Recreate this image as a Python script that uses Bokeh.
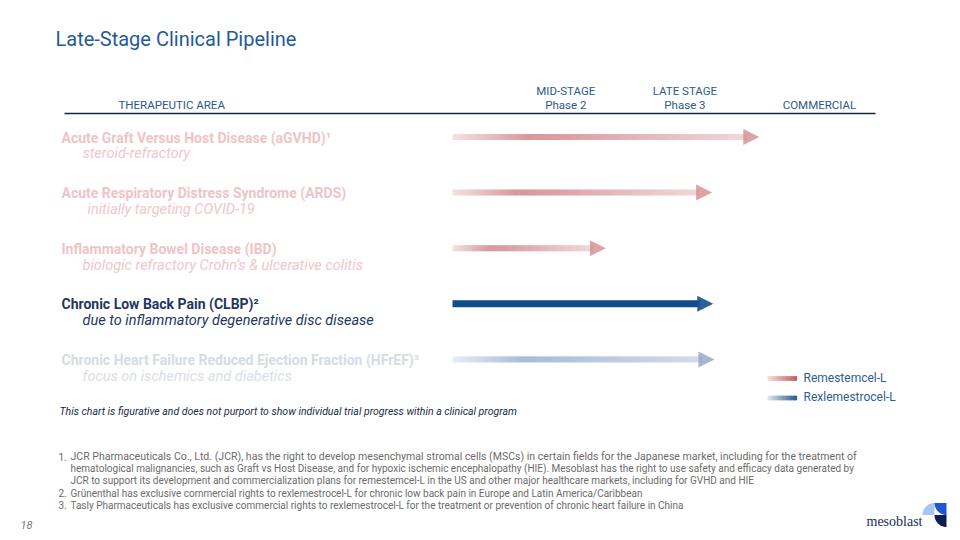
import numpy as np
from bokeh.plotting import figure
from bokeh.models import Range1d, Arrow, NormalHead
from bokeh.core.properties import value
from bokeh.embed import file_html
from bokeh.resources import INLINE

# ---------------- data ----------------
areas = [
    "Acute Graft Versus Host Disease (aGVHD)\u00b9",
    "Acute Respiratory Distress Syndrome (ARDS)",
    "Inflammatory Bowel Disease (IBD)",
    "Chronic Low Back Pain (CLBP)\u00b2",
    "Chronic Heart Failure Reduced Ejection Fraction (HFrEF)\u00b3",
]
indications = [
    "steroid-refractory",
    "initially targeting COVID-19",
    "biologic refractory Crohn\u2019s & ulcerative colitis",
    "due to inflammatory degenerative disc disease",
    "focus on ischemics and diabetics",
]
products = ["Remestemcel-L", "Remestemcel-L", "Remestemcel-L",
            "Rexlemestrocel-L", "Rexlemestrocel-L"]
highlight = [False, False, False, True, False]
# arrow tip, in stage units (0 = start of pipeline, 1 unit per stage column)
progress = [2.60, 2.20, 1.30, 2.21, 2.22]

stage_top = ["MID-STAGE", "LATE STAGE", ""]
stage_bottom = ["Phase 2", "Phase 3", "COMMERCIAL"]
stage_centers = [0.96, 1.97, 3.11]

legend_products = ["Remestemcel-L", "Rexlemestrocel-L"]

title = "Late-Stage Clinical Pipeline"
area_header = "THERAPEUTIC AREA"
disclaimer = ("This chart is figurative and does not purport to show individual "
              "trial progress within a clinical program")
footnote_numbers = ["1.", "", "", "2.", "3."]
footnote_lines = [
    "JCR Pharmaceuticals Co., Ltd. (JCR), has the right to develop mesenchymal stromal cells (MSCs) in certain fields for the Japanese market, including for the treatment of",
    "hematological malignancies, such as Graft vs Host Disease, and for hypoxic ischemic encephalopathy (HIE). Mesoblast has the right to use safety and efficacy data generated by",
    "JCR to support its development and commercialization plans for remestemcel-L in the US and other major healthcare markets, including for GVHD and HIE",
    "Gr\u00fcnenthal has exclusive commercial rights to rexlemestrocel-L for chronic low back pain in Europe and Latin America/Caribbean",
    "Tasly Pharmaceuticals has exclusive commercial rights to rexlemestrocel-L for the treatment or prevention of chronic heart failure in China",
]
page_number = "18"
brand = "mesoblast"

# ---------------- layout / styles ----------------
FONT = "Roboto"
W, H = 960, 540
XU, X0 = 118.0, 452.0   # px per stage unit, px of stage 0
YU, Y0 = 55.6, 136.5    # px per row, px of row 0
BASE_FIX = 0.4          # em correction for the rendered baseline


def dx(px):
    return (px - X0) / XU


def dy(py):
    return (py - Y0) / YU


p = figure(width=W, height=H, output_backend="svg", toolbar_location=None,
           x_range=Range1d(dx(0), dx(W)), y_range=Range1d(dy(H), dy(0)),
           x_axis_location=None, y_axis_location=None, min_border=0)
p.grid.visible = False
p.outline_line_color = None
p.background_fill_color = "white"
p.border_fill_color = "white"


def txt(x, y, s, size, color, style="normal", align="left", font=FONT):
    p.text(x=[x], y=[y - BASE_FIX * size / YU], text=[s], text_font=value(font),
           text_font_size=f"{size}px", text_color=color,
           text_font_style=style, text_align=align, text_baseline="alphabetic")


def hexrgb(h):
    h = h.lstrip("#")
    return np.array([int(h[i:i + 2], 16) for i in (0, 2, 4)], dtype=float)


def ramp(stops, n):
    ts = np.array([s[0] for s in stops])
    cs = np.array([hexrgb(s[1]) for s in stops])
    out = []
    for t in (np.arange(n) + 0.5) / n:
        c = [np.interp(t, ts, cs[:, k]) for k in range(3)]
        out.append("#%02x%02x%02x" % tuple(int(round(v)) for v in c))
    return out


def grad_bar(x_left, x_right, yc, thick_px, stops, n=90):
    edges = np.linspace(x_left, x_right, n + 1)
    ov = 0.6 / XU
    cols = ramp(stops, n)
    half = thick_px / 2 / YU
    p.quad(left=edges[:-1], right=edges[1:] + ov, top=[yc - half] * n,
           bottom=[yc + half] * n, fill_color=cols, line_color=None)


PINK_STOPS = [(0.0, "#f5e1e2"), (0.26, "#d8989b"), (0.42, "#dca2a5"),
              (0.75, "#e8c1c3"), (1.0, "#f1d8d9")]
BLUE_STOPS = [(0.0, "#e8edf5"), (0.28, "#a8bcd9"), (0.45, "#b0c2dc"),
              (0.8, "#c6d2e4"), (1.0, "#d3dcea")]

name_colors = ["#efc4c6", "#efc4c6", "#efc4c6", "#1f3763", "#d6dbe4"]
sub_colors = ["#efc7c9", "#efc7c9", "#efc7c9", "#24375f", "#d9dee6"]
sub_x = [82, 87, 82, 82, 82]
foot_sizes = [10.55, 10, 10, 10, 10]

# ---------------- title & header ----------------
txt(dx(55), dy(46), title, 20, "#1f5b98")
txt(dx(118), dy(109), area_header, 11.5, "#2b5a8a")
for c, t1, t2 in zip(stage_centers, stage_top, stage_bottom):
    if t1:
        txt(c, dy(95), t1, 11.5, "#2b5a8a", align="center")
    txt(c, dy(109), t2, 11.5, "#2b5a8a", align="center")
p.segment(x0=[dx(64)], y0=[dy(113)], x1=[dx(875)], y1=[dy(113)],
          line_color="#0e2841", line_width=1.5)

# ---------------- rows ----------------
HEAD = 16
for i, (a, ind, prod, hl, tip) in enumerate(zip(areas, indications, products,
                                                highlight, progress)):
    txt(dx(61), i + 6.2 / YU, a, 14, name_colors[i], style="bold")
    txt(dx(sub_x[i]), i + 22.6 / YU, ind, 14.5, sub_colors[i], style="italic")
    shaft_end = tip - (HEAD - 3) / XU
    if prod == "Remestemcel-L":
        grad_bar(0.0, shaft_end, i, 6, PINK_STOPS)
        head_col, head_alpha = "#d48c90", 0.8
    elif hl:
        p.quad(left=[0.0], right=[shaft_end], top=[i - 3.5 / YU],
               bottom=[i + 3.5 / YU], fill_color="#0f4c89", line_color=None)
        head_col, head_alpha = "#1c5290", 0.92
    else:
        grad_bar(0.0, shaft_end, i, 6, BLUE_STOPS)
        head_col, head_alpha = "#8ea5c6", 0.8
    p.add_layout(Arrow(end=NormalHead(size=HEAD, fill_color=head_col,
                                      fill_alpha=head_alpha, line_color=None,
                                      line_alpha=0),
                       x_start=tip - 0.3, y_start=i, x_end=tip, y_end=i,
                       line_alpha=0, line_width=0))

# ---------------- legend ----------------
leg_stops = [[(0.0, "#f5dfdf"), (1.0, "#c4595d")],
             [(0.0, "#dfe7f1"), (1.0, "#2b5990")]]
for k, (lab, yc) in enumerate(zip(legend_products, [378, 397.5])):
    grad_bar(dx(767), dx(796), dy(yc), 4.5, leg_stops[k], n=40)
    txt(dx(803), dy(yc + 4), lab, 12, "#2f5d8f")

# ---------------- disclaimer & footnotes ----------------
txt(dx(59), dy(415), disclaimer, 10.5, "#1b2a47", style="italic")
for k, (num, line) in enumerate(zip(footnote_numbers, footnote_lines)):
    yb = 460 + 12.2 * k
    if num:
        txt(dx(58), dy(yb), num, 10, "#6b6b6b")
    txt(dx(70), dy(yb), line, foot_sizes[k], "#6b6b6b")

txt(dx(20), dy(529), page_number, 11, "#7a7a7a", style="italic")
txt(dx(894), dy(527), brand, 14, "#1a2b55", align="center", font="Liberation Serif")

# ---------------- logo ----------------
def quarter(cx, cy, r, a0, a1):
    th = np.linspace(np.radians(a0), np.radians(a1), 24)
    xs = [cx] + list(cx + r * np.cos(th))
    ys = [cy] + list(cy - r * np.sin(th))
    return [dx(v) for v in xs], [dy(v) for v in ys]

for (cx, cy, r, a0, a1, col) in [(934, 514.5, 12, 90, 180, "#a9c4f0"),
                                 (946, 502.5, 12, 180, 270, "#1d57d6"),
                                 (946, 514.5, 12, 180, 270, "#0d1f4e")]:
    xs, ys = quarter(cx, cy, r, a0, a1)
    p.patch(xs, ys, fill_color=col, line_color=None)

open("out.html", "w").write(file_html(p, INLINE))
